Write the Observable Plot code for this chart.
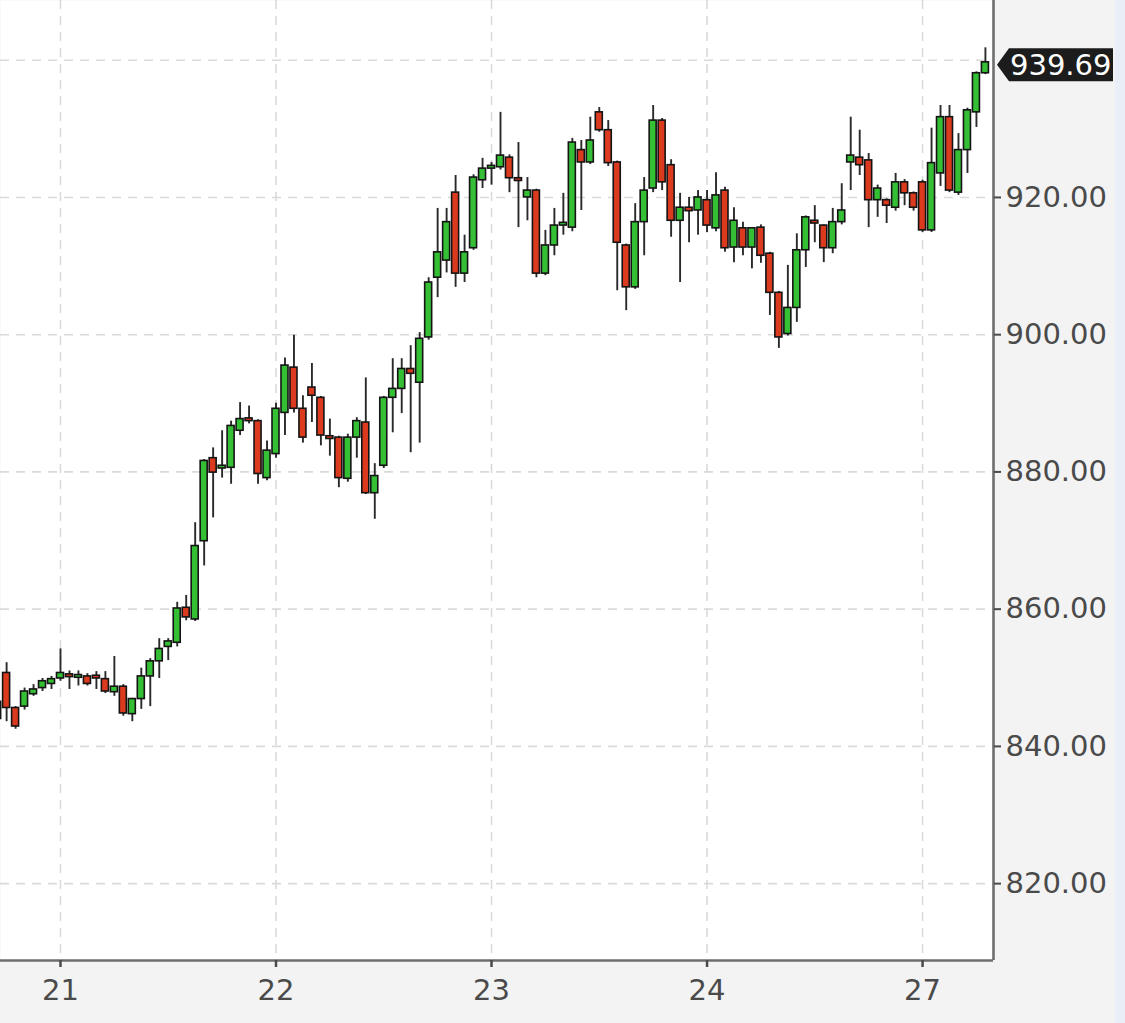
<!DOCTYPE html>
<html>
<head>
<meta charset="utf-8">
<script src="https://cdn.jsdelivr.net/npm/d3@7"></script>
<script src="https://cdn.jsdelivr.net/npm/@observablehq/plot@0.6"></script>
<style>
html, body { margin: 0; padding: 0; background: #f3f3f3; }
#chart svg { display: block; }
</style>
</head>
<body>
<div id="chart"></div>
<script>
// Hourly candles (24 per trading day); the first bar of day "21" is index 7.
const openP  = [846.5,850.7,845.6,845.8,847.6,848.5,849.1,
  849.9,850.5,850.0,850.2,850.3,849.8,847.9,848.7,844.7,846.9,850.2,852.4,854.5,855.1,860.2,858.5,869.9,882.0,880.5,880.6,886.0,887.8,887.4,879.1,
  882.6,888.6,895.2,889.2,892.3,890.8,885.2,885.0,879.0,885.0,887.2,876.9,880.9,890.8,892.1,895.0,893.0,899.6,908.3,910.8,920.7,908.9,912.6,922.5,
  924.2,924.4,925.8,922.8,920.0,921.0,908.9,913.0,915.9,915.6,926.9,925.1,932.4,929.8,925.1,913.0,906.9,916.4,921.3,931.2,924.7,916.6,
  918.5,918.1,919.6,915.5,921.0,912.7,915.5,912.7,915.6,911.8,906.1,900.1,903.9,912.3,916.6,915.9,912.6,916.4,925.1,925.8,925.4,919.6,919.6,918.5,922.2,920.6,
  922.2,915.2,923.5,931.7,920.7,926.9,932.4,938.1];
const highP  = [847.5,852.2,845.8,848.5,849.0,849.9,850.2,
  854.2,851.0,851.0,850.6,850.9,850.9,853.1,849.0,847.0,851.4,852.8,855.7,855.7,861.0,862.0,872.6,881.8,883.5,886.0,887.4,890.1,889.6,887.6,884.5,
  890.0,896.6,899.9,891.1,895.8,891.0,887.7,885.2,885.5,887.9,893.7,881.2,891.0,896.5,896.5,898.4,900.3,908.3,918.4,918.4,923.2,914.5,923.3,925.7,
  925.1,932.4,926.2,928.0,922.9,921.2,915.2,918.4,920.6,928.6,928.3,931.7,933.1,931.2,925.3,913.2,919.1,922.9,933.4,931.5,925.5,920.6,
  920.0,921.0,921.0,923.6,921.5,918.5,916.4,915.6,916.0,912.0,906.3,910.1,914.7,917.3,918.8,916.0,918.4,922.0,931.7,929.8,926.4,921.8,919.8,923.5,922.6,920.8,
  922.5,930.1,933.4,933.4,929.3,933.0,938.3,941.8];
const lowP   = [841.5,843.6,842.5,845.3,847.3,848.0,848.3,
  849.5,848.3,848.8,848.8,848.3,847.7,847.3,844.4,843.6,845.4,845.8,849.9,852.5,854.5,858.3,858.2,866.3,873.3,879.1,878.2,885.3,887.0,878.2,878.7,
  882.0,885.3,888.6,884.2,887.2,883.8,882.3,877.7,878.5,882.0,876.7,873.1,880.5,885.7,888.5,882.8,884.2,899.2,905.4,909.0,906.9,907.6,912.3,921.3,
  921.8,924.0,920.7,915.6,916.6,908.3,908.6,911.5,914.5,915.0,918.1,924.8,929.5,924.5,906.4,903.5,906.6,911.5,920.7,921.0,914.2,907.6,
  913.4,914.5,914.9,915.0,912.0,910.5,911.5,909.6,910.4,902.8,898.0,899.8,901.8,909.8,913.4,910.5,911.8,916.0,921.0,923.2,915.6,917.1,916.2,918.0,918.8,918.0,
  914.9,914.9,921.6,920.7,920.3,923.5,930.2,937.9];
const closeP = [844.0,845.6,842.9,848.0,848.3,849.5,849.8,
  850.7,850.1,850.4,849.1,849.9,848.0,848.7,844.8,846.9,850.2,852.4,854.2,855.3,860.1,858.8,869.2,881.6,879.9,880.9,886.7,887.7,887.4,879.7,883.1,
  889.2,895.5,889.2,885.0,891.1,885.3,884.8,879.1,885.0,887.4,876.9,879.4,890.8,892.1,895.0,894.3,899.4,907.6,912.0,916.4,908.9,912.0,922.9,924.2,
  924.6,926.1,922.8,922.4,921.0,908.9,913.0,915.9,916.3,928.0,925.1,928.3,929.8,925.0,913.4,906.9,916.4,921.0,931.2,922.2,916.6,918.5,
  918.0,920.0,915.9,920.3,912.6,916.6,912.7,915.5,911.5,906.1,899.6,903.9,912.3,917.1,916.2,912.6,916.4,918.1,926.1,924.7,919.6,921.3,918.8,922.2,920.6,918.5,
  915.2,925.0,931.7,921.0,926.9,932.7,938.1,939.69];

const dayLabels = ["21", "22", "23", "24", "27"];
const barsPerDay = 24;
const firstDayBar = 7;
const yTickValues = [820, 840, 860, 880, 900, 920];
const yGridValues = [820, 840, 860, 880, 900, 920, 940];
const xDomain = [0.32, 110.9];
const yDomain = [808.8, 948.7];

const UP = "#34bf34", DOWN = "#dc3a1f";

const bars = openP.map((o, i) => ({
  i, open: o, high: highP[i], low: lowP[i], close: closeP[i],
  color: closeP[i] >= o ? UP : DOWN
}));
const dayTicks = dayLabels.map((label, j) => ({ i: firstDayBar + j * barsPerDay, label }));
const labelOf = new Map(dayTicks.map(d => [d.i, d.label]));
const lastClose = closeP[closeP.length - 1];

const chart = Plot.plot({
  width: 1125,
  height: 1023,
  marginLeft: 0,
  marginTop: 0,
  marginRight: 132,
  marginBottom: 63,
  style: { background: "#f3f3f3", fontFamily: "'DejaVu Sans', sans-serif", overflow: "visible" },
  x: { type: "linear", domain: xDomain },
  y: { domain: yDomain },
  color: { type: "identity" },
  marks: [
    Plot.frame({ fill: "white", stroke: null }),
    Plot.ruleY(yGridValues, { stroke: "#dadada", strokeWidth: 1.6, strokeDasharray: "9,7" }),
    Plot.ruleX(dayTicks, { x: "i", stroke: "#dadada", strokeWidth: 1.6, strokeDasharray: "9,7" }),
    Plot.ruleX(bars, { x: "i", y1: "low", y2: "high", stroke: "#2a2a2a", strokeWidth: 1.9 }),
    Plot.rect(bars, {
      x1: d => d.i - 0.39, x2: d => d.i + 0.39,
      y1: "open", y2: "close",
      fill: "color", stroke: "#141414", strokeWidth: 1.6
    }),
    Plot.ruleY([yDomain[0]], { stroke: "#6e6e6e", strokeWidth: 2.6 }),
    Plot.ruleX([xDomain[1]], { stroke: "#6e6e6e", strokeWidth: 2.6 }),
    Plot.axisY({
      anchor: "right", ticks: yTickValues, tickFormat: d => d.toFixed(2),
      tickSize: 7, tickPadding: 5, fontSize: 29, color: "#4a4a4a", strokeWidth: 2, label: null
    }),
    Plot.axisX({
      anchor: "bottom", ticks: dayTicks.map(d => d.i), tickFormat: i => labelOf.get(i),
      tickSize: 7, tickPadding: 12, fontSize: 29, color: "#4a4a4a", strokeWidth: 2.5, label: null
    })
  ]
});

// price tag at the last close, positioned with the plot's own scales
const sx = chart.scale("x"), sy = chart.scale("y");
const tipX = sx.apply(xDomain[1]) + 4;
const ty = sy.apply(lastClose) + 3;
const svg = d3.select(chart);
svg.append("rect").attr("x", 1115).attr("y", 0).attr("width", 10).attr("height", 1023).attr("fill", "#e9eef7");
svg.append("path")
  .attr("d", `M${tipX},${ty} L${tipX + 12},${ty - 16.5} L1113,${ty - 16.5} L1113,${ty + 16.5} L${tipX + 12},${ty + 16.5} Z`)
  .attr("fill", "#1c1c1c");
svg.append("text")
  .attr("x", tipX + 13).attr("y", ty).attr("dy", "0.36em")
  .attr("text-anchor", "start")
  .attr("fill", "white").attr("font-size", 29)
  .attr("font-family", "'DejaVu Sans', sans-serif")
  .text(lastClose.toFixed(2));

document.getElementById("chart").appendChild(chart);
</script>
</body>
</html>
